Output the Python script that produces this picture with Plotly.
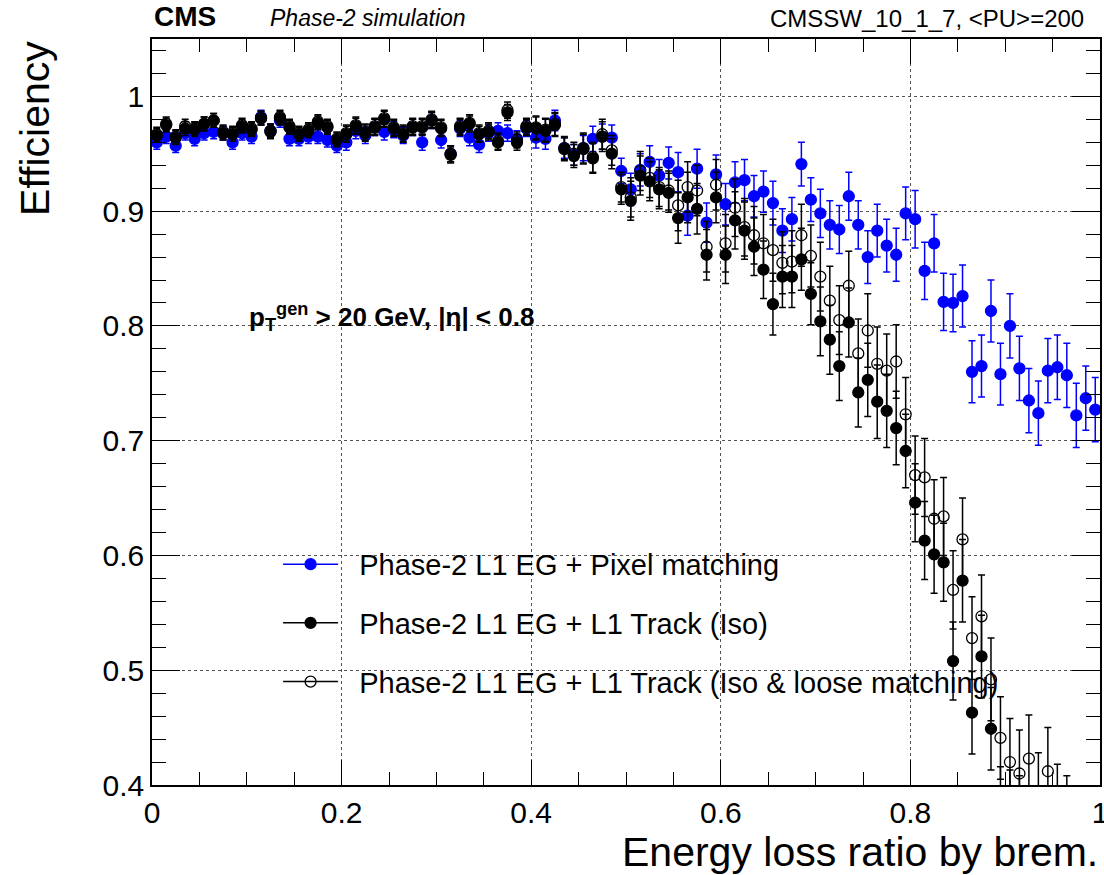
import plotly.graph_objects as go

BIN_WIDTH = 0.01
N_BINS = 100
x_centers = [round(BIN_WIDTH * (i + 0.5), 4) for i in range(N_BINS)]

# Phase-2 L1 EG + Pixel matching (blue, filled)
eff_pixel = [
    0.960, 0.965, 0.957, 0.968, 0.963, 0.968, 0.969, 0.968, 0.960, 0.968,
    0.965, 0.982, 0.970, 0.979, 0.963, 0.963, 0.965, 0.965, 0.962, 0.957,
    0.960, 0.970, 0.966, 0.973, 0.969, 0.971, 0.966, 0.973, 0.960, 0.979,
    0.962, 0.950, 0.972, 0.964, 0.958, 0.968, 0.970, 0.968, 0.963, 0.972,
    0.964, 0.963, 0.979, 0.955, 0.949, 0.955, 0.963, 0.965, 0.964, 0.935,
    0.919, 0.936, 0.943, 0.931, 0.942, 0.934, 0.896, 0.937, 0.890, 0.932,
    0.906, 0.925, 0.927, 0.913, 0.917, 0.907, 0.883, 0.893, 0.941, 0.910,
    0.898, 0.888, 0.884, 0.913, 0.888, 0.860, 0.883, 0.870, 0.862, 0.898,
    0.893, 0.848, 0.872, 0.821, 0.820, 0.826, 0.760, 0.765, 0.813, 0.758,
    0.800, 0.763, 0.735, 0.724, 0.761, 0.764, 0.757, 0.722, 0.737, 0.727,
]
err_pixel = [
    0.006, 0.006, 0.006, 0.006, 0.006, 0.006, 0.006, 0.006, 0.006, 0.006,
    0.006, 0.006, 0.006, 0.006, 0.006, 0.006, 0.006, 0.006, 0.006, 0.006,
    0.007, 0.007, 0.007, 0.007, 0.007, 0.007, 0.007, 0.007, 0.007, 0.007,
    0.007, 0.007, 0.007, 0.007, 0.007, 0.007, 0.007, 0.007, 0.007, 0.007,
    0.009, 0.009, 0.009, 0.009, 0.009, 0.011, 0.011, 0.011, 0.011, 0.011,
    0.014, 0.014, 0.014, 0.014, 0.014, 0.017, 0.017, 0.017, 0.017, 0.017,
    0.018, 0.018, 0.018, 0.018, 0.018, 0.019, 0.019, 0.019, 0.019, 0.019,
    0.021, 0.021, 0.021, 0.021, 0.021, 0.023, 0.023, 0.023, 0.023, 0.023,
    0.025, 0.025, 0.025, 0.025, 0.025, 0.027, 0.027, 0.027, 0.027, 0.027,
    0.028, 0.028, 0.028, 0.028, 0.028, 0.028, 0.028, 0.028, 0.028, 0.028,
]

# Phase-2 L1 EG + L1 Track (Iso) (black, filled)
eff_track = [
    0.966, 0.975, 0.964, 0.972, 0.971, 0.976, 0.979, 0.968, 0.967, 0.974,
    0.971, 0.981, 0.969, 0.981, 0.973, 0.967, 0.970, 0.977, 0.973, 0.962,
    0.967, 0.974, 0.968, 0.973, 0.980, 0.972, 0.967, 0.973, 0.973, 0.979,
    0.972, 0.949, 0.973, 0.976, 0.967, 0.969, 0.960, 0.986, 0.960, 0.973,
    0.972, 0.970, 0.975, 0.954, 0.948, 0.954, 0.946, 0.965, 0.950, 0.919,
    0.909, 0.931, 0.926, 0.919, 0.916, 0.894, 0.912, 0.902, 0.862, 0.912,
    0.862, 0.892, 0.883, 0.869, 0.849, 0.819, 0.843, 0.843, 0.858, 0.828,
    0.804, 0.788, 0.765, 0.803, 0.742, 0.753, 0.734, 0.726, 0.711, 0.691,
    0.646, 0.613, 0.601, 0.594, 0.508, 0.578, 0.463, 0.512, 0.449, 0.380,
    0.375, 0.370, 0.345, 0.335, 0.350, 0.310, 0.300, 0.320, 0.290, 0.280,
]
err_track = [
    0.006, 0.006, 0.006, 0.006, 0.006, 0.006, 0.006, 0.006, 0.006, 0.006,
    0.006, 0.006, 0.006, 0.006, 0.006, 0.006, 0.006, 0.006, 0.006, 0.006,
    0.007, 0.007, 0.007, 0.007, 0.007, 0.007, 0.007, 0.007, 0.007, 0.007,
    0.007, 0.007, 0.007, 0.007, 0.007, 0.007, 0.007, 0.007, 0.007, 0.007,
    0.010, 0.010, 0.010, 0.010, 0.010, 0.013, 0.013, 0.013, 0.013, 0.013,
    0.017, 0.017, 0.017, 0.017, 0.017, 0.022, 0.022, 0.022, 0.022, 0.022,
    0.025, 0.025, 0.025, 0.025, 0.025, 0.027, 0.027, 0.027, 0.027, 0.027,
    0.030, 0.030, 0.030, 0.030, 0.030, 0.032, 0.032, 0.032, 0.032, 0.032,
    0.034, 0.034, 0.034, 0.034, 0.034, 0.036, 0.036, 0.036, 0.036, 0.036,
    0.038, 0.038, 0.038, 0.038, 0.038, 0.038, 0.038, 0.038, 0.038, 0.038,
]

# Phase-2 L1 EG + L1 Track (Iso & loose matching) (open circles)
eff_loose = [
    0.967, 0.976, 0.965, 0.974, 0.972, 0.976, 0.979, 0.969, 0.968, 0.975,
    0.972, 0.981, 0.970, 0.982, 0.974, 0.968, 0.971, 0.978, 0.974, 0.963,
    0.968, 0.975, 0.969, 0.974, 0.981, 0.973, 0.968, 0.974, 0.974, 0.980,
    0.973, 0.950, 0.974, 0.977, 0.968, 0.970, 0.961, 0.988, 0.962, 0.974,
    0.973, 0.971, 0.976, 0.955, 0.950, 0.955, 0.947, 0.967, 0.953, 0.921,
    0.912, 0.935, 0.929, 0.921, 0.918, 0.905, 0.921, 0.918, 0.869, 0.923,
    0.872, 0.903, 0.886, 0.879, 0.872, 0.866, 0.855, 0.856, 0.879, 0.861,
    0.843, 0.822, 0.805, 0.835, 0.776, 0.796, 0.767, 0.761, 0.769, 0.723,
    0.670, 0.668, 0.632, 0.634, 0.570, 0.614, 0.528, 0.547, 0.492, 0.441,
    0.420, 0.410, 0.423, 0.390, 0.412, 0.380, 0.370, 0.360, 0.350, 0.340,
]
err_loose = err_track

legend_names = [
    "Phase-2 L1 EG + Pixel matching",
    "Phase-2 L1 EG + L1 Track (Iso)",
    "Phase-2 L1 EG + L1 Track (Iso & loose matching)",
]

FONT = "Liberation Sans, Arial, Helvetica, sans-serif"

fig = go.Figure()

series = [
    (eff_pixel, err_pixel, "#0000ff", "circle", "#0000ff"),
    (eff_track, err_track, "#000000", "circle", "#000000"),
    (eff_loose, err_loose, "#000000", "circle-open", "#000000"),
]

for i, (vals, errs, col, sym, ecol) in enumerate(series):
    fig.add_trace(go.Scatter(
        x=x_centers, y=vals, mode="markers",
        marker=dict(color=col, symbol=sym, size=11,
                    line=dict(color=col, width=1.3)),
        error_y=dict(type="data", array=errs, visible=True,
                     color=ecol, thickness=1.5, width=3.5),
        showlegend=False, cliponaxis=True, name=legend_names[i],
    ))

# legend entries (ROOT style: marker on a horizontal line)
for i, (vals, errs, col, sym, ecol) in enumerate(series):
    fig.add_trace(go.Scatter(
        x=[None], y=[None], mode="lines+markers",
        marker=dict(color=col, symbol=sym, size=11,
                    line=dict(color=col, width=1.3)),
        line=dict(color=col, width=1.5),
        name="\u00a0\u00a0" + legend_names[i], legendgroup=f"g{i}", showlegend=True,
    ))

fig.update_layout(
    width=1104, height=875,
    margin=dict(l=152, r=4, t=39, b=90, autoexpand=False),
    paper_bgcolor="white", plot_bgcolor="white",
    font=dict(family=FONT, color="black"),
    showlegend=True,
    legend=dict(
        x=0.133, y=0.33, xanchor="left", yanchor="top",
        font=dict(size=29, family=FONT, color="black"),
        bgcolor="rgba(0,0,0,0)", borderwidth=0,
        traceorder="grouped", tracegroupgap=18, itemwidth=55,
    ),
)

fig.update_xaxes(
    range=[0, 1], showgrid=True, gridcolor="#555", griddash="dot", gridwidth=1,
    tickvals=[0, 0.2, 0.4, 0.6, 0.8, 1.0],
    ticktext=["0", "0.2", "0.4", "0.6", "0.8", "1"],
    ticks="inside", ticklen=25, tickwidth=1, tickcolor="black",
    minor=dict(dtick=0.05, ticks="inside", ticklen=13, tickcolor="black", showgrid=False),
    showline=True, linecolor="black", linewidth=1.5, mirror="ticks",
    tickfont=dict(size=30, family=FONT), zeroline=False,
    ticklabeloverflow="allow", automargin=False,
)
fig.update_yaxes(
    range=[0.4, 1.05], showgrid=True, gridcolor="#555", griddash="dot", gridwidth=1,
    tickvals=[0.4, 0.5, 0.6, 0.7, 0.8, 0.9, 1.0],
    ticktext=["0.4", "0.5", "0.6", "0.7", "0.8", "0.9", "1"],
    ticks="inside", ticklen=28, tickwidth=1, tickcolor="black",
    minor=dict(dtick=0.02, tick0=0.4, ticks="inside", ticklen=14, tickcolor="black", showgrid=False),
    showline=True, linecolor="black", linewidth=1.5, mirror="ticks",
    tickfont=dict(size=30, family=FONT), zeroline=False, automargin=False,
)

annotations = [
    dict(text="Efficiency", xref="paper", yref="paper", x=-0.124, y=1.0,
         xanchor="center", yanchor="top", textangle=-90, showarrow=False,
         font=dict(size=41, family=FONT)),
    dict(text="Energy loss ratio by brem.", xref="paper", yref="paper", x=1.0, y=-0.09,
         xanchor="right", yanchor="middle", showarrow=False,
         font=dict(size=41, family=FONT)),
    dict(text="<b>CMS</b>", xref="paper", yref="paper", x=0.0, y=1.03,
         xanchor="left", yanchor="middle", showarrow=False,
         font=dict(size=28, family=FONT)),
    dict(text="<i>Phase-2 simulation</i>", xref="paper", yref="paper", x=0.122, y=1.028,
         xanchor="left", yanchor="middle", showarrow=False,
         font=dict(size=23, family=FONT)),
    dict(text="CMSSW_10_1_7, &lt;PU&gt;=200", xref="paper", yref="paper", x=0.985, y=1.028,
         xanchor="right", yanchor="middle", showarrow=False,
         font=dict(size=24, family=FONT)),
    dict(text="<b>p<sub>T</sub><sup>gen</sup> &gt; 20 GeV, |η| &lt; 0.8</b>",
         xref="paper", yref="paper", x=0.1, y=0.627,
         xanchor="left", yanchor="middle", showarrow=False,
         font=dict(size=26, family=FONT)),
]
fig.update_layout(annotations=annotations)

fig.write_html("out.html")
